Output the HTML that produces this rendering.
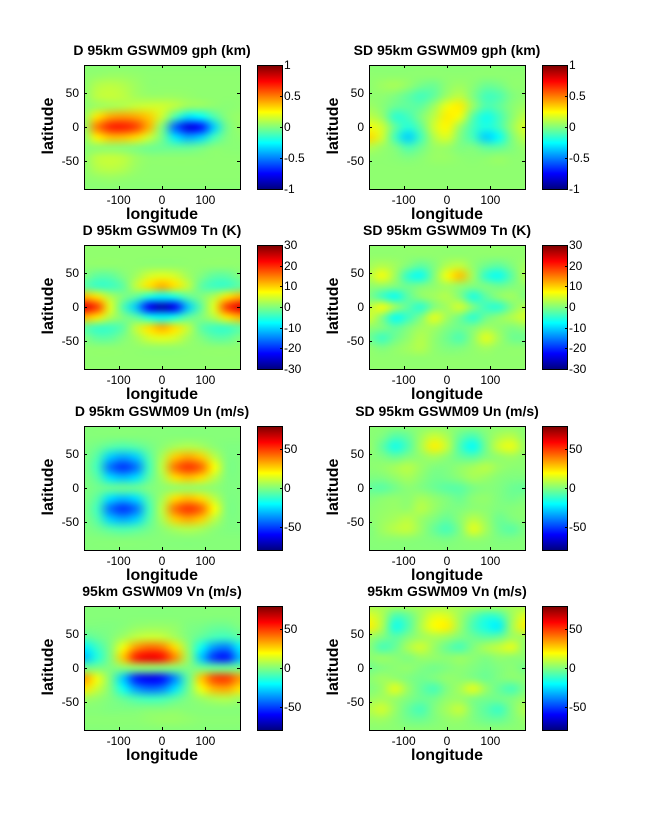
<!DOCTYPE html>
<html><head><meta charset="utf-8">
<style>
body{margin:0;background:#fff;}
#fig{position:relative;width:647px;height:822px;background:#fff;font-family:"Liberation Sans",sans-serif;overflow:hidden;}
.ttl{position:absolute;font-weight:bold;font-size:14px;text-align:center;width:300px;white-space:nowrap;}
.xl{position:absolute;font-weight:bold;font-size:16px;text-align:center;width:160px;}
.yl{position:absolute;font-weight:bold;font-size:16px;transform:rotate(-90deg);transform-origin:center;width:80px;text-align:center;}
.tk{position:absolute;font-size:12px;white-space:nowrap;}
canvas{position:absolute;}
.box{position:absolute;border:1px solid #000;box-sizing:border-box;}
.tm{position:absolute;background:#000;}
</style></head>
<body>
<div id="fig"></div>
<script>
// Grid coordinates (data)
const lons = [-180,-150,-120,-90,-60,-30,0,30,60,90,120,150,180];
const lats = [90,75,60,45,30,15,0,-15,-30,-45,-60,-75,-90];
const xTicks = [-100,0,100];
const yTicks = [50,0,-50];

const titles = ["D 95km GSWM09 gph (km)","SD 95km GSWM09 gph (km)","D 95km GSWM09 Tn (K)","SD 95km GSWM09 Tn (K)","D 95km GSWM09 Un (m/s)","SD 95km GSWM09 Un (m/s)","95km GSWM09 Vn (m/s)","95km GSWM09 Vn (m/s)"];
const cRange = [1,1,30,30,80,80,80,80];
const cTicks = [[1,0.5,0,-0.5,-1],[1,0.5,0,-0.5,-1],[30,20,10,0,-10,-20,-30],[30,20,10,0,-10,-20,-30],[50,0,-50],[50,0,-50],[50,0,-50],[50,0,-50]];

const dGph = [
[0.02,0.02,0.02,0.02,0.02,0.02,0.02,0.02,0.02,0.02,0.02,0.02,0.02],
[0.03,0.04,0.05,0.05,0.04,0.03,0.03,0.03,0.03,0.03,0.03,0.03,0.03],
[0.03,0.1,0.12,0.1,0.06,0.03,0.03,0.03,0.03,0.03,0.03,0.03,0.03],
[0.03,0.12,0.14,0.12,0.07,0.05,0.05,0.05,0.04,0.03,0.03,0.03,0.03],
[0.03,0.06,0.08,0.1,0.14,0.16,0.16,0.12,0.06,0.05,0.03,0.02,0.03],
[0.05,0.3,0.42,0.45,0.42,0.35,0.15,-0.1,-0.3,-0.25,-0.1,0.02,0.05],
[0.05,0.5,0.68,0.7,0.62,0.4,0,-0.55,-0.8,-0.72,-0.35,-0.02,0.05],
[0.03,0.28,0.38,0.38,0.32,0.15,-0.02,-0.3,-0.42,-0.35,-0.12,0,0.03],
[0.02,0.03,0.03,0.02,0.0,-0.03,-0.04,-0.05,-0.05,-0.02,0.02,0.02,0.02],
[0.03,0.12,0.14,0.12,0.06,0.03,0.03,0.03,0.03,0.03,0.03,0.03,0.03],
[0.03,0.1,0.12,0.1,0.05,0.03,0.03,0.03,0.03,0.03,0.03,0.03,0.03],
[0.03,0.04,0.05,0.04,0.03,0.03,0.03,0.03,0.03,0.03,0.03,0.03,0.03],
[0.02,0.02,0.02,0.02,0.02,0.02,0.02,0.02,0.02,0.02,0.02,0.02,0.02]];
const sdGph = [
[0.02,0.02,0.02,0.02,0.02,0.02,0.02,0.02,0.02,0.02,0.02,0.02,0.02],
[0.03,0.03,0.03,0.03,0.03,0.03,0.03,0.03,0.03,0.03,0.03,0.03,0.03],
[0.03,0.06,0.08,0.04,-0.02,-0.04,0.03,0.06,0.02,-0.04,-0.02,0.03,0.03],
[0.03,0.03,0,-0.06,-0.12,-0.06,0.06,0.12,0,-0.12,-0.1,0,0.03],
[0.06,0.02,-0.04,-0.06,-0.06,0.06,0.22,0.28,0.05,-0.1,-0.06,0.02,0.06],
[0.12,0.05,-0.16,-0.12,0,0.12,0.28,0.22,-0.08,-0.22,-0.12,0.02,0.12],
[0.22,0.16,-0.06,-0.18,-0.06,0.16,0.26,0.05,-0.12,-0.2,-0.12,0.05,0.18],
[0.32,0.16,-0.12,-0.34,-0.12,0.1,0.18,0,-0.12,-0.34,-0.24,0,0.12],
[0.1,0.05,0,-0.1,-0.03,0.05,0.05,0,0,-0.06,-0.06,0,0.05],
[0.03,0.03,0.02,0,0.02,0.05,0.05,0.03,0.02,0.03,0.05,0.03,0.03],
[0.03,0.03,0.03,0.03,0.03,0.03,0.03,0.03,0.03,0.03,0.03,0.03,0.03],
[0.03,0.03,0.03,0.03,0.03,0.03,0.03,0.03,0.03,0.03,0.03,0.03,0.03],
[0.03,0.03,0.03,0.03,0.03,0.03,0.03,0.03,0.03,0.03,0.03,0.03,0.03]];
const dTn = [
[1,1,1,1,1,1,1,1,1,1,1,1,1],
[1,1,1,1,1,1,1,1,1,1,1,1,1],
[1,1,1,1,1,1,1,1,1,1,1,1,1],
[0,-2,-2,0,2,5,6,5,2,0,-2,-2,0],
[-2,-4,-4,-2,4,9,12,9,4,-2,-4,-4,-2],
[12,9,3,0,-2,-6,-8,-6,-2,0,3,9,12],
[24,19,6,-3,-11,-23,-27,-23,-11,-2,6,19,24],
[12,9,3,0,-2,-6,-8,-6,-2,0,3,9,12],
[-2,-4,-4,-2,4,9,12,9,4,-2,-4,-4,-2],
[0,-2,-2,0,2,5,6,5,2,0,-2,-2,0],
[1,1,1,1,1,1,1,1,1,1,1,1,1],
[1,1,1,1,1,1,1,1,1,1,1,1,1],
[1,1,1,1,1,1,1,1,1,1,1,1,1]];
const sdTn = [
[1,1,1,1,1,1,1,1,1,1,1,1,1],
[1,1,1,1,1,1,1,1,1,1,1,1,1],
[2,3,2,0,-2,0,3,4,1,-1,-2,0,2],
[3,7,2,-5,-7,0,7,11,2,-5,-7,-2,3],
[1,1,0,-1,0,1,2,1,0,0,-1,0,1],
[0,-4,-7,-2,1,2,3,0,-6,-2,1,2,0],
[3,7,2,-2,-5,0,2,5,0,-4,-5,0,3],
[5,0,-7,-4,0,6,2,-1,-5,-1,1,3,5],
[1,0,-2,0,2,2,0,-1,0,2,1,0,1],
[-1,-4,-1,1,3,1,-1,-3,1,6,2,-1,-1],
[1,0,1,2,3,1,0,0,1,2,1,1,1],
[1,1,1,1,1,1,1,1,1,1,1,1,1],
[1,1,1,1,1,1,1,1,1,1,1,1,1]];
const dUn = [
[1,1,1,1,1,1,1,1,1,1,1,1,1],
[1,1,1,1,1,1,1,1,1,1,1,1,1],
[0,-2,-6,-8,-6,-2,2,6,8,6,2,0,0],
[0,-7,-28,-34,-28,-7,7,28,34,28,10,0,0],
[0,-10,-42,-52,-42,-10,10,42,52,44,20,0,0],
[0,-6,-25,-30,-25,-6,6,25,30,25,10,0,0],
[0,-2,-3,-3,-3,0,2,3,4,3,2,0,0],
[0,-6,-25,-30,-25,-6,6,25,30,25,10,0,0],
[0,-10,-42,-52,-42,-10,10,42,52,44,20,0,0],
[0,-7,-28,-34,-28,-7,7,28,34,28,10,0,0],
[0,-2,-6,-8,-6,-2,2,6,8,6,2,0,0],
[1,1,1,1,1,1,1,1,1,1,1,1,1],
[1,1,1,1,1,1,1,1,1,1,1,1,1]];
const sdUn = [
[2,2,2,2,2,2,2,2,2,2,2,2,2],
[2,0,-7,-4,5,12,7,-4,-9,0,7,9,2],
[4,-5,-17,-8,7,22,11,-9,-20,-2,13,17,4],
[2,0,-4,0,3,6,2,-4,-6,0,3,5,2],
[2,3,6,9,4,0,0,3,6,9,4,2,2],
[0,0,3,6,2,-2,-1,2,6,4,1,0,0],
[-4,-6,-2,2,0,-3,-6,-6,-1,1,0,-3,-4],
[0,2,3,2,6,3,0,-3,2,3,0,-2,0],
[2,3,4,3,9,4,0,0,2,2,0,1,2],
[2,4,6,9,4,0,-4,2,9,4,-3,0,2],
[0,5,9,11,4,-4,-9,0,16,6,-3,-6,0],
[1,2,2,2,1,0,-1,1,3,2,0,0,1],
[1,1,1,1,1,1,1,1,1,1,1,1,1]];
const dVn = [
[1,1,1,1,1,1,1,1,1,1,1,1,1],
[1,1,1,1,1,1,1,1,1,1,1,1,1],
[0,0,0,1,3,4,4,3,0,-1,-3,-3,0],
[-6,-3,0,5,10,12,11,6,0,-5,-9,-10,-6],
[-22,-11,0,18,36,43,40,25,3,-18,-36,-40,-22],
[-30,-15,0,28,55,62,58,38,5,-28,-52,-56,-30],
[-2,-1,0,2,3,3,2,1,0,-2,-3,-3,-2],
[35,18,0,-28,-55,-62,-58,-38,-5,28,48,50,35],
[24,12,0,-18,-36,-43,-40,-25,-3,18,32,34,24],
[5,3,0,-4,-8,-10,-9,-5,0,4,7,8,5],
[1,1,0,0,0,1,1,2,1,1,1,1,1],
[2,2,2,2,2,3,4,4,3,2,2,2,2],
[1,1,1,1,1,1,1,1,1,1,1,1,1]];
const sdVn = [
[6,6,6,6,6,6,6,6,6,6,6,6,6],
[16,8,-9,-5,6,16,15,5,-5,-13,-11,5,16],
[22,8,-17,-8,8,20,22,5,-9,-17,-22,6,22],
[5,0,-6,0,5,7,5,0,-3,-6,-4,5,5],
[2,-9,-4,7,13,4,-4,-9,0,7,11,16,2],
[2,4,2,0,4,3,2,4,2,0,3,2,2],
[-2,0,2,3,0,-2,0,2,0,-2,0,2,-2],
[2,5,3,0,-2,0,3,2,0,-3,0,2,2],
[0,4,16,4,-4,-9,0,6,16,4,-4,-9,0],
[4,6,4,0,-3,-2,3,4,0,-2,-2,0,4],
[8,13,4,-4,-9,0,6,11,0,-6,-11,0,8],
[4,5,2,-2,-3,0,3,4,0,-3,-4,0,4],
[2,2,2,2,2,2,2,2,2,2,2,2,2]];
const grids = [dGph,sdGph,dTn,sdTn,dUn,sdUn,dVn,sdVn];

const fig = document.getElementById('fig');
const W = 156, H = 124;
const colX = [84,369], cbX = [257,542], rowY = [65,245,426,606];

function jet(f){
  f=Math.max(0,Math.min(1,f));
  const r=Math.max(0,Math.min(1,Math.min(4*f-1.5,-4*f+4.5)));
  const g=Math.max(0,Math.min(1,Math.min(4*f-0.5,-4*f+3.5)));
  const b=Math.max(0,Math.min(1,Math.min(4*f+0.5,-4*f+2.5)));
  return [r*255,g*255,b*255];
}
function xPos(x0,lon){return x0+(lon+180)/360*W;}
function yPos(y0,lat){return y0+(90-lat)/180*H;}
function div(cls,txt,st){const d=document.createElement('div');d.className=cls;if(txt!==null)d.textContent=txt;Object.assign(d.style,st);fig.appendChild(d);return d;}

for(let p=0;p<8;p++){
  const c=p%2, r=Math.floor(p/2);
  const x0=colX[c], y0=rowY[r], R=cRange[p], g=grids[p];
  const t=div('ttl',titles[p],{left:(x0+W/2-150)+'px',top:(y0-23)+'px'});
  
  
  const src=document.createElement('canvas');src.width=lons.length;src.height=lats.length;
  const sctx=src.getContext('2d');const img=sctx.createImageData(lons.length,lats.length);
  for(let i=0;i<lats.length;i++)for(let j=0;j<lons.length;j++){
    const col=jet((g[i][j]+R)/(2*R));const k=(i*lons.length+j)*4;
    img.data[k]=col[0];img.data[k+1]=col[1];img.data[k+2]=col[2];img.data[k+3]=255;}
  sctx.putImageData(img,0,0);
  const cv=document.createElement('canvas');cv.width=W;cv.height=H;
  cv.style.left=x0+'px';cv.style.top=y0+'px';
  
  
  const ctx=cv.getContext('2d');ctx.imageSmoothingEnabled=true;ctx.imageSmoothingQuality='high';
  ctx.drawImage(src,0.5,0.5,lons.length-1,lats.length-1,0,0,W,H);
  fig.appendChild(cv);
  const bx=div('box',null,{left:x0+'px',top:y0+'px',width:(W+1)+'px',height:(H+1)+'px'});
  
  
  xTicks.forEach(v=>{
    const x=xPos(x0,v);
    div('tm',null,{left:x+'px',top:(y0+H-3)+'px',width:'1px',height:'3px'});
    div('tm',null,{left:x+'px',top:y0+'px',width:'1px',height:'3px'});
    const l=div('tk',String(v),{left:(x-20)+'px',width:'40px',textAlign:'center',top:(y0+H+4)+'px'});
    
    
  });
  yTicks.forEach(v=>{
    const y=yPos(y0,v);
    div('tm',null,{left:x0+'px',top:y+'px',width:'3px',height:'1px'});
    div('tm',null,{left:(x0+W-3)+'px',top:y+'px',width:'3px',height:'1px'});
    const l=div('tk',String(v),{left:(x0-45)+'px',width:'40px',textAlign:'right',top:(y-7)+'px'});
    
    
  });
  const xl=div('xl','longitude',{left:(x0+W/2-80)+'px',top:(y0+H+17)+'px'});
  
  
  const yl=div('yl','latitude',{left:(x0-75)+'px',top:(y0+H/2-10)+'px'});
  
  
  const cx=cbX[c];
  const cb=div('box',null,{left:cx+'px',top:y0+'px',width:'26px',height:(H+1)+'px',
    background:'linear-gradient(to bottom,#800000 0%,#ff0000 12.5%,#ffff00 37.5%,#00ffff 62.5%,#0000ff 87.5%,#000080 100%)'});
  
  
  cTicks[p].forEach(v=>{
    const y=y0+(R-v)/(2*R)*H;
    div('tm',null,{left:(cx+23)+'px',top:y+'px',width:'3px',height:'1px'});
    const l=div('tk',String(v),{left:(cx+27)+'px',top:(y-7)+'px'});
    
    
  });
}
</script>
</body></html>
